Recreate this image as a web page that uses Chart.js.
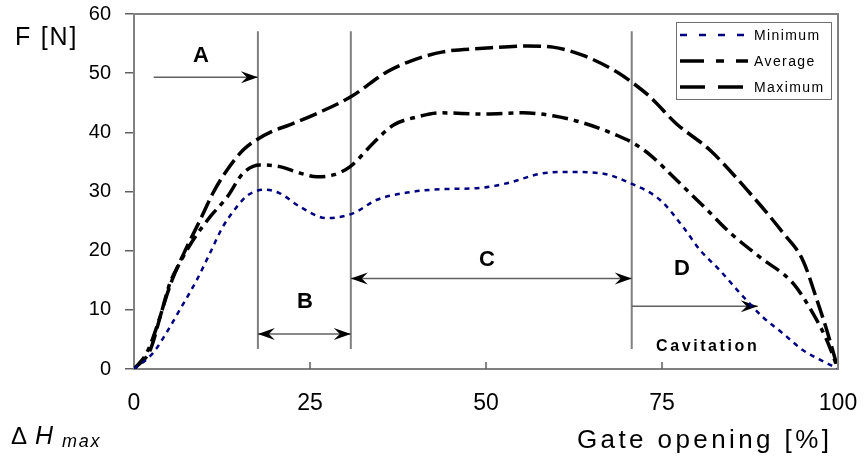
<!DOCTYPE html>
<html>
<head>
<meta charset="utf-8">
<script src="https://cdn.jsdelivr.net/npm/chart.js@4.4.0/dist/chart.umd.min.js"></script>
<style>
  html, body { margin: 0; padding: 0; background: #fff; }
  #wrap { width: 865px; height: 461px; }
</style>
</head>
<body>
<div id="wrap"><canvas id="grafica" width="865" height="461"></canvas></div>
<script>
// valores (apertura de compuerta [%] vs fuerza [N])
const aperturaMin = [0, 2.7, 4.7, 6.5, 8.9, 10.8, 12.6, 14.6, 16.2, 18.6, 20.7, 23.6, 27.4, 31.1, 34.5, 39.2, 43.9, 49.1, 53, 57.7, 61.5, 66.2, 70.5, 74.7, 78, 80.4, 83.2, 86.1, 89.3, 92.2, 95, 98.4, 100];
const fuerzaMin = [0, 2.7, 6.3, 10, 15, 19.6, 24, 27.4, 29.4, 30.3, 29.7, 27.4, 25.5, 26.3, 28.6, 29.9, 30.4, 30.6, 31.4, 33, 33.3, 33.1, 31.4, 28.6, 24, 20.1, 16.7, 12.8, 8.8, 6, 3.2, 1, 0];

const aperturaProm = [0, 1.8, 3.7, 5.1, 6.5, 8.4, 10.8, 13.2, 15.5, 17.9, 20.7, 23.6, 26, 28.3, 30.7, 34, 36.8, 40.2, 43.5, 49.6, 55.3, 59.5, 63.8, 68.6, 70.9, 73.3, 77.1, 81.4, 84.7, 88.9, 93.6, 96.4, 98.4, 100];
const fuerzaProm = [0, 2.7, 8.8, 14.5, 17.9, 21.8, 25.7, 29, 33.1, 34.5, 34.2, 33.1, 32.5, 32.8, 34.2, 38.2, 41.2, 42.6, 43.3, 43.1, 43.3, 42.8, 41.6, 39.5, 38.2, 36.2, 31.9, 26.9, 23, 18.9, 14.5, 9.5, 4.9, 0];

const aperturaMax = [0, 2.3, 4, 5.4, 7.5, 9.4, 11.2, 13.2, 15.5, 17.5, 19.7, 22.2, 26, 30.8, 35.9, 39.2, 43.9, 49.6, 55.8, 59.5, 63.8, 68.6, 70.9, 73.3, 77, 81.8, 87.5, 92.2, 95, 97, 98.4, 100];
const fuerzaMax = [0, 3.2, 10, 15, 20.6, 25.2, 29.7, 33.6, 37, 38.8, 40.2, 41.3, 43.2, 46, 50.2, 52, 53.6, 54.2, 54.6, 54.4, 53, 50.2, 48.3, 46, 41.5, 37, 29.7, 23, 18.4, 11.7, 6.6, 0];

const nombresSeries = ["Minimum", "Average", "Maximum"];
const limitesZonas = [17.6, 30.8, 70.7];
const ticksX = [0, 25, 50, 75, 100];

const FUENTE = "'Liberation Sans', Arial, sans-serif";

function puntos(xs, ys) {
  return xs.map((v, i) => ({ x: v, y: ys[i] }));
}

function texto(ctx, str, x, y, font, spacing, align) {
  ctx.save();
  ctx.font = font;
  ctx.letterSpacing = (spacing || 0) + "px";
  ctx.textAlign = align || "left";
  ctx.textBaseline = "alphabetic";
  ctx.fillStyle = "#000";
  ctx.fillText(str, x, y);
  ctx.restore();
}

// punta de flecha tipo "stealth"
function punta(ctx, x, y, dir) {
  ctx.beginPath();
  ctx.moveTo(x, y);
  ctx.lineTo(x - dir * 17, y - 6);
  ctx.lineTo(x - dir * 11, y);
  ctx.lineTo(x - dir * 17, y + 6);
  ctx.closePath();
  ctx.fill();
}

function flecha(ctx, x1, x2, y, dobles) {
  ctx.strokeStyle = "#606060";
  ctx.lineWidth = 1.5;
  ctx.beginPath();
  ctx.moveTo(x1, y);
  ctx.lineTo(x2, y);
  ctx.stroke();
  ctx.fillStyle = "#000";
  punta(ctx, x2, y, 1);
  if (dobles) punta(ctx, x1, y, -1);
}

// quita el relleno que Chart.js reserva para las etiquetas de los extremos
function sinRelleno(s) {
  s.paddingLeft = 0;
  s.paddingRight = 0;
  s.paddingTop = 0;
  s.paddingBottom = 0;
}

const anotaciones = {
  id: "anotaciones",
  beforeDatasetsDraw(chart) {
    const { ctx, scales: { x, y } } = chart;
    ctx.save();
    ctx.strokeStyle = "#808080";
    ctx.lineWidth = 2;
    limitesZonas.forEach(v => {
      const px = x.getPixelForValue(v);
      ctx.beginPath();
      ctx.moveTo(px, y.getPixelForValue(57.1));
      ctx.lineTo(px, y.getPixelForValue(3.4));
      ctx.stroke();
    });

    // flechas de zonas A, B, C, D
    flecha(ctx, x.getPixelForValue(2.8), x.getPixelForValue(limitesZonas[0]), y.getPixelForValue(49.3), false);
    flecha(ctx, x.getPixelForValue(limitesZonas[0]), x.getPixelForValue(limitesZonas[1]), y.getPixelForValue(5.9), true);
    flecha(ctx, x.getPixelForValue(limitesZonas[1]), x.getPixelForValue(limitesZonas[2]), y.getPixelForValue(15.3), true);
    flecha(ctx, x.getPixelForValue(limitesZonas[2]), x.getPixelForValue(88.6), y.getPixelForValue(10.6), false);
    ctx.restore();
  },
  afterDatasetsDraw(chart) {
    const { ctx, chartArea, scales: { x, y } } = chart;
    ctx.save();

    // marco superior y derecho
    ctx.strokeStyle = "#808080";
    ctx.lineWidth = 2;
    ctx.beginPath();
    ctx.moveTo(chartArea.left, chartArea.top);
    ctx.lineTo(chartArea.right, chartArea.top);
    ctx.lineTo(chartArea.right, chartArea.bottom);
    ctx.stroke();

    // ticks del eje x hacia adentro
    ctx.lineWidth = 1.5;
    ctx.strokeStyle = "#606060";
    ticksX.slice(1, -1).forEach(v => {
      const px = x.getPixelForValue(v);
      ctx.beginPath();
      ctx.moveTo(px, chartArea.bottom - 7);
      ctx.lineTo(px, chartArea.bottom);
      ctx.stroke();
    });

    // leyenda
    const lx = 676, ly = 22, lw = 155, lh = 77;
    ctx.fillStyle = "#fff";
    ctx.fillRect(lx, ly, lw, lh);
    ctx.strokeStyle = "#707070";
    ctx.lineWidth = 1;
    ctx.strokeRect(lx + 0.5, ly + 0.5, lw, lh);
    chart.data.datasets.forEach((ds, i) => {
      const yy = ly + 13 + i * 26;
      ctx.save();
      ctx.strokeStyle = ds.borderColor;
      ctx.lineWidth = ds.borderWidth;
      ctx.setLineDash(ds.leyendaDash);
      ctx.beginPath();
      ctx.moveTo(lx + 4, yy);
      ctx.lineTo(lx + 72, yy);
      ctx.stroke();
      ctx.restore();
      texto(ctx, ds.label, lx + 78, yy + 5, "14px " + FUENTE, 1.4);
    });

    // etiquetas de zonas
    const negrita = "bold 22px " + FUENTE;
    texto(ctx, "A", 201, 62, negrita, 0, "center");
    texto(ctx, "B", 305, 308, negrita, 0, "center");
    texto(ctx, "C", 487, 266, negrita, 0, "center");
    texto(ctx, "D", 682, 275, negrita, 0, "center");
    texto(ctx, "Cavitation", 656, 351, "bold 16px " + FUENTE, 2.6);

    // titulos de ejes
    texto(ctx, "F [N]", 15, 45, "25px " + FUENTE, 1.8);
    texto(ctx, "Gate opening [%]", 577, 448, "26px " + FUENTE, 3.4);
    texto(ctx, "\u0394", 11, 444, "24px " + FUENTE, 0);
    texto(ctx, "H", 35, 444, "italic 25px " + FUENTE, 0);
    texto(ctx, "max", 62, 447, "italic 18px " + FUENTE, 1.8);

    ctx.restore();
  }
};

const ctx = document.getElementById("grafica").getContext("2d");
window.miGrafica = new Chart(ctx, {
  type: "line",
  data: {
    datasets: [
      {
        label: nombresSeries[0],
        data: puntos(aperturaMin, fuerzaMin),
        borderColor: "#000080",
        borderWidth: 2.5,
        borderDash: [5, 5],
        leyendaDash: [7, 12]
      },
      {
        label: nombresSeries[1],
        data: puntos(aperturaProm, fuerzaProm),
        borderColor: "#000",
        borderWidth: 3.5,
        borderDash: [16, 6, 5, 6],
        leyendaDash: [24, 12, 8, 12]
      },
      {
        label: nombresSeries[2],
        data: puntos(aperturaMax, fuerzaMax),
        borderColor: "#000",
        borderWidth: 3.5,
        borderDash: [18, 6],
        leyendaDash: [25, 13]
      }
    ]
  },
  options: {
    responsive: false,
    animation: false,
    layout: { padding: { top: 14, right: 27, left: 0, bottom: 0 } },
    elements: {
      point: { radius: 0 },
      line: { cubicInterpolationMode: "monotone", fill: false }
    },
    plugins: {
      legend: { display: false },
      tooltip: { enabled: false }
    },
    scales: {
      x: {
        type: "linear",
        min: 0,
        max: 100,
        afterFit: s => { s.height = 92; sinRelleno(s); },
        afterBuildTicks: s => { s.ticks = ticksX.map(v => ({ value: v })); },
        ticks: { color: "#000", font: { family: FUENTE, size: 23 }, padding: 21, maxRotation: 0 },
        grid: { drawOnChartArea: false, drawTicks: false },
        border: { color: "#808080", width: 2 }
      },
      y: {
        min: 0,
        max: 60,
        afterFit: s => { s.width = 134; sinRelleno(s); },
        ticks: { stepSize: 10, color: "#000", font: { family: FUENTE, size: 20 }, padding: 14 },
        grid: { drawOnChartArea: false, drawTicks: true, tickLength: 9, color: "#606060", lineWidth: 1.5 },
        border: { color: "#808080", width: 2 }
      }
    }
  },
  plugins: [anotaciones]
});
</script>
</body>
</html>
